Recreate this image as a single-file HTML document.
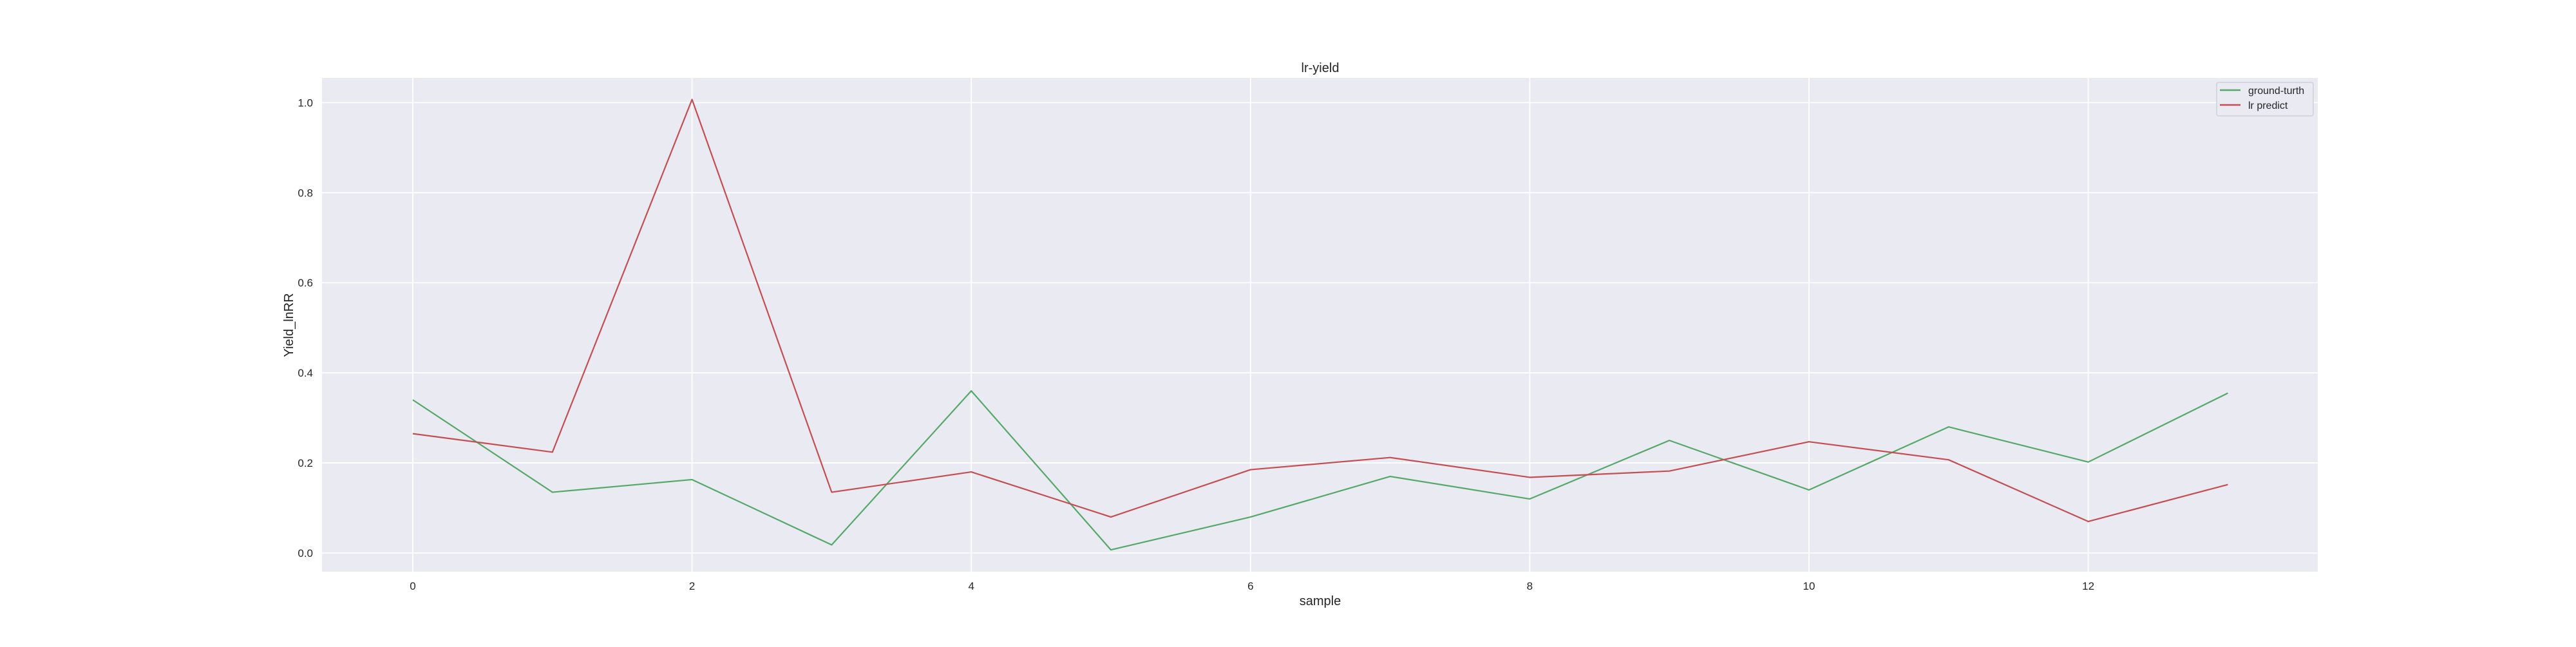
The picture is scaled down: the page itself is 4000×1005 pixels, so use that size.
<!DOCTYPE html>
<html><head><meta charset="utf-8"><style>
html,body{margin:0;padding:0;background:#fff;}
svg text{font-family:"Liberation Sans",sans-serif;fill:#262626;}
</style></head><body>
<svg id="chart" width="4000" height="1000" xmlns="http://www.w3.org/2000/svg">
<rect x="500" y="121" width="3099" height="767" fill="#eaeaf2"/>
<g id="grid"></g>
<g id="ticks"></g>
<g id="series"></g>
<text x="2050" y="112" font-size="20" text-anchor="middle">lr-yield</text>
<text x="2050" y="940" font-size="20" text-anchor="middle">sample</text>
<text x="0" y="0" font-size="20" text-anchor="middle" transform="translate(455,505) rotate(-90)">Yield_lnRR</text>
<g>
<rect x="3442" y="128" width="150" height="52" rx="3" fill="#eaeaf2" stroke="#d0d0d8" stroke-width="1.5"/>
<line x1="3447" y1="140" x2="3479" y2="140" stroke="#55a868" stroke-width="2.5"/>
<text x="3491" y="146" font-size="16">ground-turth</text>
<line x1="3447" y1="163" x2="3479" y2="163" stroke="#c44e52" stroke-width="2.5"/>
<text x="3491" y="169" font-size="16">lr predict</text>
</g>
</svg>
<script>
const samples = [0,1,2,3,4,5,6,7,8,9,10,11,12,13];
const groundTruth = [0.34,0.135,0.163,0.018,0.36,0.007,0.08,0.17,0.12,0.25,0.14,0.28,0.202,0.355];
const lrPredict = [0.265,0.224,1.007,0.135,0.18,0.08,0.185,0.212,0.168,0.182,0.247,0.207,0.07,0.152];
const xTicks = [0,2,4,6,8,10,12];
const yTicks = [0.0,0.2,0.4,0.6,0.8,1.0];

const NS = "http://www.w3.org/2000/svg";
function xs(v){ return 641 + v*216.8; }
function ys(v){ return 859 - v*699.6; }
function mk(tag, attrs, parent){
  const el = document.createElementNS(NS, tag);
  for (const k in attrs) el.setAttribute(k, attrs[k]);
  parent.appendChild(el);
  return el;
}
const grid = document.getElementById('grid');
const ticks = document.getElementById('ticks');
const series = document.getElementById('series');
xTicks.forEach(t=>{
  const g = mk('line',{x1:xs(t),x2:xs(t),y1:121,y2:888,stroke:'#fff','stroke-width':1.8},grid);
  
  
  const l = mk('text',{x:xs(t),y:916,'font-size':17,'text-anchor':'middle'},ticks);
  l.textContent = String(t);
  
  
});
yTicks.forEach(t=>{
  const g = mk('line',{x1:500,x2:3599,y1:ys(t),y2:ys(t),stroke:'#fff','stroke-width':1.8},grid);
  
  
  const l = mk('text',{x:486,y:ys(t)+6,'font-size':17,'text-anchor':'end'},ticks);
  l.textContent = t.toFixed(1);
  
  
});
function line(vals, color){
  return mk('polyline',{points:vals.map((v,i)=>xs(samples[i])+','+ys(v)).join(' '),fill:'none',stroke:color,'stroke-width':2.2,'stroke-linejoin':'round'},series);
}
const g1 = line(groundTruth,'#55a868');


const g2 = line(lrPredict,'#c44e52');


</script>
</body></html>
